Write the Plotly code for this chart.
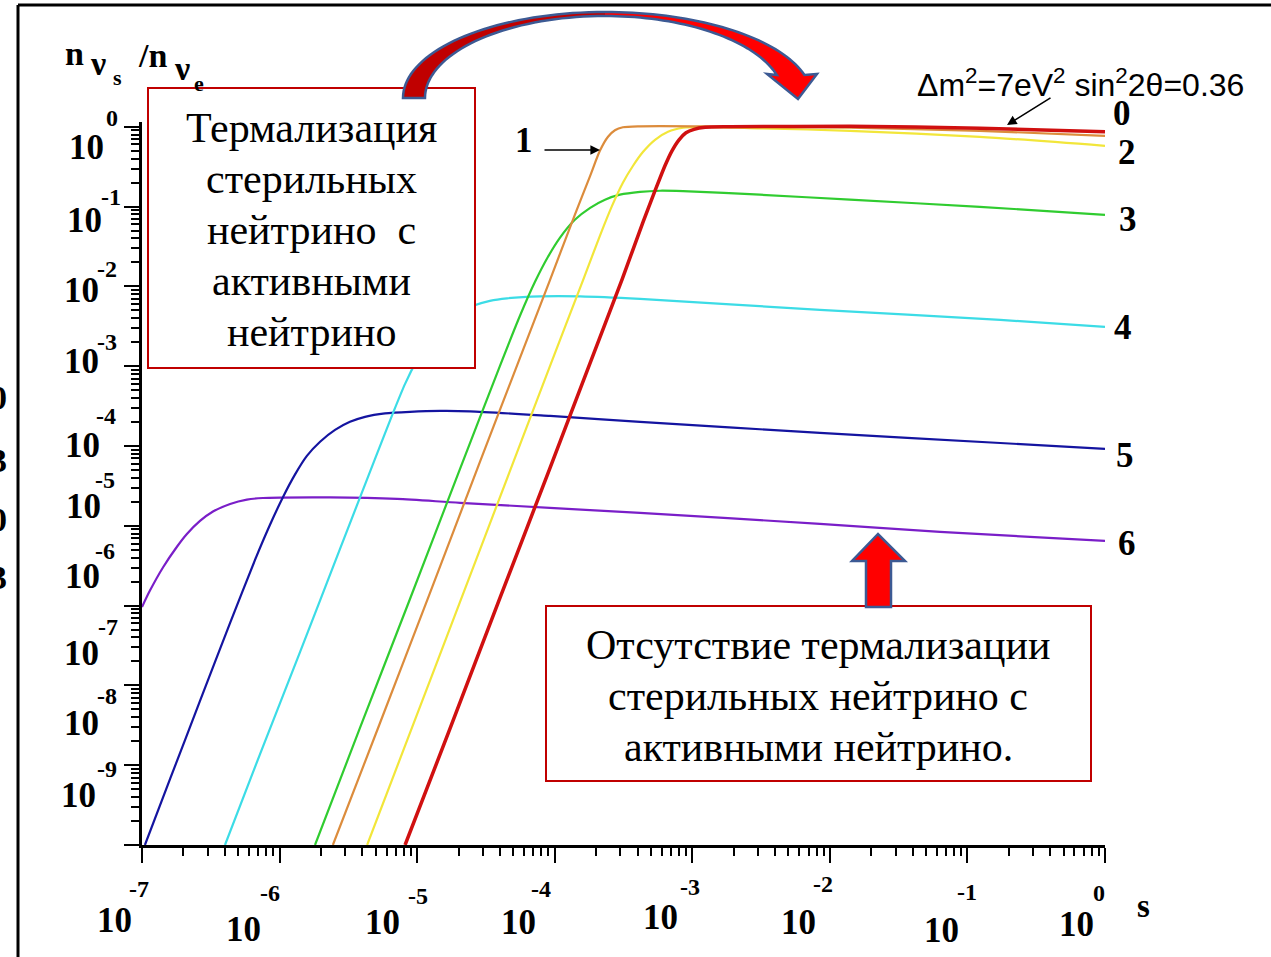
import numpy as np
import plotly.graph_objects as go

# ---------------- data ----------------
# curve 0 (red)
s0 = [8.17e-6, 1.73e-5, 4.00e-5, 9.25e-5, 1.81e-4, 3.08e-4, 4.39e-4, 5.36e-4, 6.33e-4, 7.12e-4,
      8.01e-4, 9.00e-4, 1.03e-3, 1.24e-3, 1.88e-3, 1.40e-2, 0.123, 1.0]
n0 = [1e-9, 2.85e-8, 1.25e-6, 5.32e-5, 1.10e-3, 1.21e-2, 6.45e-2, 0.158, 0.325, 0.500,
      0.687, 0.841, 0.930, 0.986, 1.0, 1.014, 0.958, 0.866]
# curve 1 (orange)
s1 = [2.44e-6, 5.37e-6, 1.24e-5, 2.86e-5, 5.59e-5, 9.25e-5, 1.40e-4, 1.81e-4, 2.13e-4, 2.44e-4,
      2.74e-4, 3.13e-4, 4.17e-4, 1.14e-3, 1.40e-2, 0.123, 1.0]
n1 = [1e-9, 3.38e-8, 1.44e-6, 6.32e-5, 1.27e-3, 1.21e-2, 7.89e-2, 0.243, 0.500, 0.749,
      0.904, 0.986, 1.014, 1.014, 0.972, 0.891, 0.771]
# curve 2 (yellow)
s2 = [4.33e-6, 8.87e-6, 2.05e-5, 4.73e-5, 9.25e-5, 1.61e-4, 2.13e-4, 2.61e-4, 3.13e-4, 3.71e-4,
      4.39e-4, 5.36e-4, 6.66e-4, 8.57e-4, 1.14e-3, 3.10e-3, 1.40e-2, 0.123, 1.0]
n2 = [1e-9, 2.54e-8, 1.11e-6, 4.88e-5, 1.01e-3, 1.21e-2, 4.30e-2, 0.102, 0.199, 0.325,
      0.486, 0.687, 0.866, 0.972, 1.0, 0.958, 0.891, 0.749, 0.578]
# curve 3 (green)
s3 = [1.81e-6, 3.84e-6, 8.87e-6, 2.05e-5, 4.00e-5, 5.59e-5, 7.19e-5, 8.94e-5, 1.09e-4, 1.40e-4,
      1.81e-4, 2.32e-4, 2.98e-4, 4.17e-4, 5.83e-4, 8.57e-4, 3.10e-3, 1.40e-2, 0.123, 1.0]
n3 = [1e-9, 2.93e-8, 1.21e-6, 5.17e-5, 1.01e-3, 4.28e-3, 1.14e-2, 2.35e-2, 4.06e-2, 6.83e-2,
      9.65e-2, 0.122, 0.141, 0.153, 0.158, 0.156, 0.141, 0.122, 0.0994, 0.0789]
# curve 4 (cyan)
s4 = [4.01e-7, 7.21e-7, 1.41e-6, 2.75e-6, 4.94e-6, 6.68e-6, 8.17e-6, 9.97e-6, 1.20e-5, 1.47e-5,
      1.88e-5, 2.55e-5, 3.38e-5, 4.50e-5, 7.82e-5, 1.53e-4, 4.17e-4, 8.47e-3, 0.173, 1.0]
n4 = [1e-9, 1.38e-8, 2.63e-7, 5.13e-6, 6.90e-5, 2.60e-4, 6.01e-4, 1.20e-3, 2.08e-3, 3.11e-3,
      4.40e-3, 5.71e-3, 6.59e-3, 7.09e-3, 7.51e-3, 7.51e-3, 6.98e-3, 5.08e-3, 3.81e-3, 3.11e-3]
# curve 5 (blue)
s5 = [1.05e-7, 1.60e-7, 2.64e-7, 4.37e-7, 6.63e-7, 8.52e-7, 1.06e-6, 1.29e-6, 1.58e-6, 1.97e-6,
      2.53e-6, 3.25e-6, 4.18e-6, 5.84e-6, 8.87e-6, 1.47e-5, 2.42e-5, 9.25e-5, 4.17e-4, 8.47e-3,
      0.173, 1.0]
n5 = [1e-9, 6.72e-9, 6.39e-8, 6.07e-7, 3.74e-6, 1.03e-5, 2.30e-5, 4.35e-5, 7.52e-5, 1.13e-4,
      1.59e-4, 2.01e-4, 2.32e-4, 2.56e-4, 2.68e-4, 2.75e-4, 2.72e-4, 2.38e-4, 2.01e-4, 1.46e-4,
      1.09e-4, 9.20e-5]
# curve 6 (purple)
s6 = [1.0e-7, 1.14e-7, 1.42e-7, 1.80e-7, 2.12e-7, 2.64e-7, 3.28e-7, 4.37e-7, 5.79e-7, 7.57e-7,
      1.01e-6, 2.33e-6, 7.14e-6, 2.05e-5, 4.17e-4, 8.47e-3, 6.32e-2, 1.0]
n6 = [9.62e-7, 1.53e-6, 3.00e-6, 5.50e-6, 7.89e-6, 1.15e-5, 1.51e-5, 1.88e-5, 2.13e-5, 2.23e-5,
      2.26e-5, 2.27e-5, 2.17e-5, 1.94e-5, 1.45e-5, 1.06e-5, 8.39e-6, 6.47e-6]

curve_names = ["0", "1", "2", "3", "4", "5", "6"]
x_tick_exps = ["-7", "-6", "-5", "-4", "-3", "-2", "-1", "0"]
y_tick_exps = ["0", "-1", "-2", "-3", "-4", "-5", "-6", "-7", "-8", "-9"]

# ---------------- geometry helpers ----------------
W, H = 1271, 957
L, R, T, B = 142, 1105, 122, 845


def px(x):
    return (x - L) / (R - L)


def py(y):
    return (B - y) / (B - T)


SERIF = "Liberation Serif"
SANS = "Liberation Sans"

fig = go.Figure()

series = [
    (s6, n6, "#7A1EC8", 2.2),
    (s5, n5, "#1414A0", 2.2),
    (s4, n4, "#3CDCE6", 2.2),
    (s3, n3, "#30CC30", 2.2),
    (s2, n2, "#F2E63A", 2.2),
    (s1, n1, "#DC8C3C", 2.2),
    (s0, n0, "#D01010", 3.5),
]
for xs, ys, col, wd in series:
    fig.add_trace(go.Scatter(x=xs, y=ys, mode="lines",
                             line=dict(color=col, width=wd, shape="spline", smoothing=0.7),
                             showlegend=False, hoverinfo="skip"))

axis_common = dict(type="log", showline=True, linecolor="black", linewidth=2.5,
                   ticks="outside", ticklen=15, tickwidth=2, tickcolor="black",
                   dtick=1, showticklabels=False, showgrid=False, zeroline=False,
                   minor=dict(ticks="outside", ticklen=8, tickwidth=1.5, tickcolor="black",
                              dtick="D1", showgrid=False))

fig.update_xaxes(range=[-7, 0], **axis_common)
fig.update_yaxes(range=[-9, 0.06], **axis_common)

ann = []


def text(x, y, s, size, family=SERIF, bold=False, xanchor="center", yanchor="middle"):
    ann.append(dict(x=px(x), y=py(y), xref="paper", yref="paper", text=(f"<b>{s}</b>" if bold else s),
                    showarrow=False, font=dict(family=family, size=size, color="black"),
                    xanchor=xanchor, yanchor=yanchor))


# y tick labels (positions as drawn in the original figure)
y_lab_pos = [(86, 147, 112, 118), (84, 221, 111, 197), (81, 290, 107, 269), (81, 361, 107, 342),
             (82, 445, 106, 416), (83, 506, 105, 480), (82, 576, 105, 551), (81, 653, 108, 627),
             (81, 723, 107, 696), (78, 795, 107, 769)]
for e, (x1, y1, x2, y2) in zip(y_tick_exps, y_lab_pos):
    text(x1, y1, "10", 35, bold=True)
    text(x2, y2, e, 24, bold=True)

x_lab_pos = [(114, 920, 139, 889), (243, 929, 270, 893), (382, 922, 418, 896), (518, 922, 541, 889),
             (660, 917, 690, 887), (798, 922, 823, 884), (941, 930, 967, 892), (1076, 924, 1099, 893)]
for e, (x1, y1, x2, y2) in zip(x_tick_exps, x_lab_pos):
    text(x1, y1, "10", 35, bold=True)
    text(x2, y2, e, 24, bold=True)

text(1143, 906, "s", 33, bold=True)

# y axis title n_{nu_s} / n_{nu_e}
text(74, 54, "n", 34, bold=True)
text(98, 63, "ν", 34, bold=True)
text(117, 77, "s", 22, bold=True)
text(152, 55, "/n", 34, bold=True)
text(182, 68, "ν", 34, bold=True)
text(199, 84, "e", 22, bold=True)

# curve labels
lab_pos = [(1122, 113), (524, 140), (1127, 153), (1128, 220), (1123, 327), (1125, 455), (1127, 543)]
for name, (x, y) in zip(curve_names, lab_pos):
    text(x, y, name, 35, bold=True)

# parameter text
ann.append(dict(x=px(1080), y=py(83), xref="paper", yref="paper",
                text="Δm<sup>2</sup>=7eV<sup>2</sup> sin<sup>2</sup>2θ=0.36", showarrow=False,
                font=dict(family=SANS, size=32, color="black"), xanchor="center", yanchor="middle"))

# arrows
ann.append(dict(x=px(1007), y=py(125), xref="paper", yref="paper", ax=45, ay=-28, text="",
                showarrow=True, arrowhead=2, arrowsize=1.2, arrowwidth=1.6, arrowcolor="black"))
ann.append(dict(x=px(600), y=py(150), xref="paper", yref="paper", ax=-57, ay=0, text="",
                showarrow=True, arrowhead=2, arrowsize=1.2, arrowwidth=1.6, arrowcolor="black"))

# box texts
box1_lines = ["Термализация", "стерильных", "нейтрино  с", "активными", "нейтрино"]
for i, s in enumerate(box1_lines):
    text(311, 128 + i * 51, s, 42)
box2_lines = ["Отсутствие термализации", "стерильных нейтрино с", "активными нейтрино."]
for i, s in enumerate(box2_lines):
    text(818, 645 + i * 51, s, 42)

# left-edge cropped glyph fragments
for y, s in [(397, "0"), (460, "3"), (519, "0"), (577, "3")]:
    text(-2, y, s, 34, bold=True)

shapes = []
# boxes
for (x0, y0, x1, y1) in [(148, 88, 475, 368), (546, 606, 1091, 781)]:
    shapes.append(dict(type="rect", xref="paper", yref="paper", x0=px(x0), x1=px(x1), y0=py(y1), y1=py(y0),
                       line=dict(color="#C00000", width=2), fillcolor="white", layer="above"))

# outer frame lines
shapes.append(dict(type="line", xref="paper", yref="paper", x0=px(18), x1=px(1275), y0=py(5), y1=py(5),
                   line=dict(color="black", width=3)))
shapes.append(dict(type="line", xref="paper", yref="paper", x0=px(18), x1=px(18), y0=py(5), y1=py(960),
                   line=dict(color="black", width=3)))


def path(points, close=True):
    s = "M " + " L ".join(f"{px(x):.5f},{py(y):.5f}" for x, y in points)
    return s + (" Z" if close else "")


# curved arrow
cx, cy = 605, 98
ro_y, ri_y = 86, 82
roL, riL, roR, riR = 202, 180, 207, 179
thL = np.linspace(np.pi, np.pi / 2, 40)
outerL = [(cx + roL * np.cos(t), cy - ro_y * np.sin(t)) for t in thL]
innerL = [(cx + riL * np.cos(t), cy - ri_y * np.sin(t)) for t in thL]
te_o = np.arcsin((cy - 75) / ro_y)
te_i = np.arcsin((cy - 75) / ri_y)
thRo = np.linspace(np.pi / 2, te_o, 40)
thRi = np.linspace(np.pi / 2, te_i, 40)
outerR = [(cx + roR * np.cos(t), cy - ro_y * np.sin(t)) for t in thRo]
innerR = [(cx + riR * np.cos(t), cy - ri_y * np.sin(t)) for t in thRi]
head = [(817, 74), (798, 99), (767, 74)]

left_poly = outerL + innerL[::-1]
right_poly = outerR + head + innerR[::-1]
full_poly = outerL + outerR[1:] + head + innerR[::-1] + innerL[::-1][1:]
shapes.append(dict(type="path", xref="paper", yref="paper", path=path(left_poly),
                   fillcolor="#C00000", line=dict(width=0), layer="above"))
shapes.append(dict(type="path", xref="paper", yref="paper", path=path(right_poly),
                   fillcolor="#FF0000", line=dict(width=0), layer="above"))
shapes.append(dict(type="path", xref="paper", yref="paper", path=path(full_poly),
                   fillcolor="rgba(0,0,0,0)", line=dict(color="#3C5A94", width=2.5), layer="above"))

# up arrow
up = [(866, 607), (866, 561), (852, 561), (878, 534), (905, 561), (891, 561), (891, 607)]
shapes.append(dict(type="path", xref="paper", yref="paper", path=path(up),
                   fillcolor="#FF0000", line=dict(color="#3C5A94", width=2.5), layer="above"))

fig.update_layout(width=W, height=H, margin=dict(l=L, r=W - R, t=T, b=H - B),
                  paper_bgcolor="white", plot_bgcolor="white",
                  annotations=ann, shapes=shapes, showlegend=False)

fig.write_html("out.html", config={"displayModeBar": False},
               post_script="document.body.style.margin='0px';")
